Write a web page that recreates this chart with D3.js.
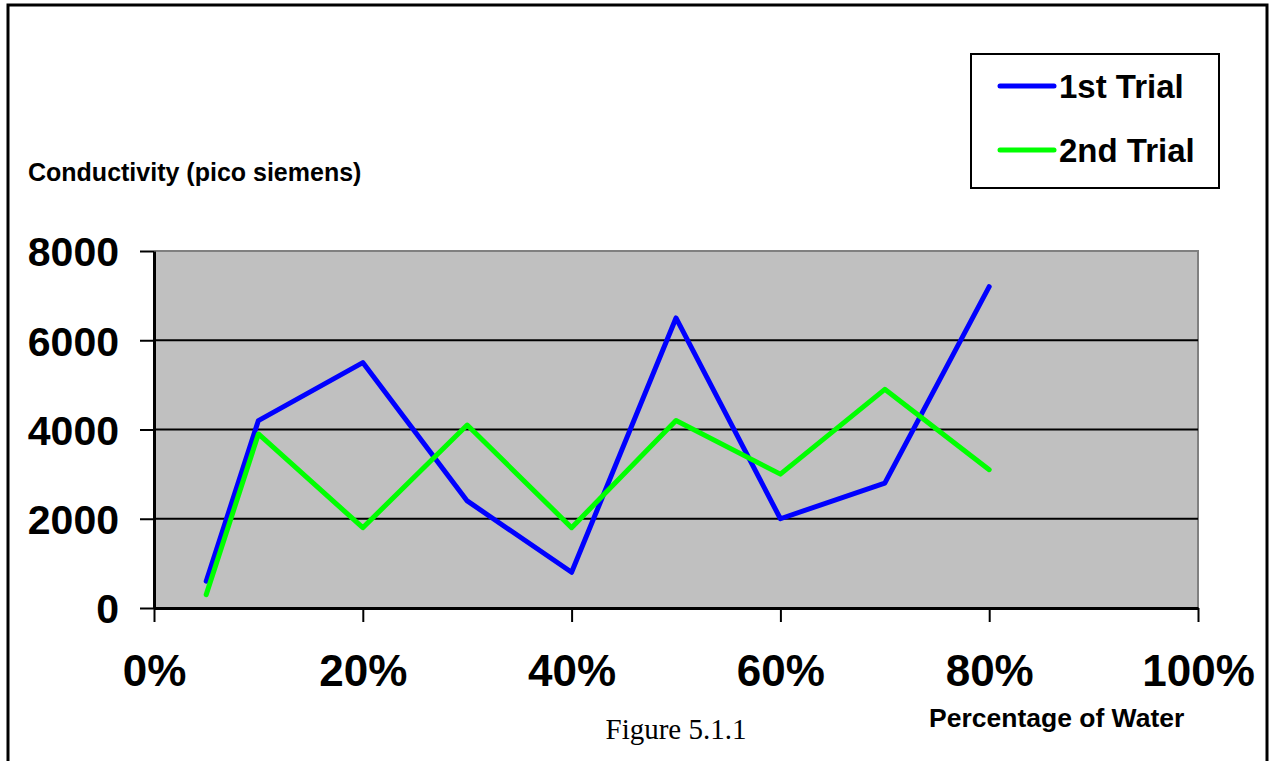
<!DOCTYPE html>
<html>
<head>
<meta charset="utf-8">
<script src="https://cdn.jsdelivr.net/npm/d3@7"></script>
<style>
  html, body { margin: 0; padding: 0; background: #ffffff; }
  svg { display: block; }
</style>
</head>
<body>
<svg id="chart" width="1272" height="761"></svg>
<script>
// Water percentage (fraction of 1) for each measurement
const waterFraction = [0.05, 0.10, 0.20, 0.30, 0.40, 0.50, 0.60, 0.70, 0.80];
// Conductivity readings, pico siemens
const trial1 = [600, 4200, 5500, 2400, 800, 6500, 2000, 2800, 7200];
const trial2 = [300, 3900, 1800, 4100, 1800, 4200, 3000, 4900, 3100];
const seriesNames = ["1st Trial", "2nd Trial"];
const seriesColors = ["#0000ff", "#00ff00"];
const yTicks = [0, 2000, 4000, 6000, 8000];
const xTicks = [0, 0.2, 0.4, 0.6, 0.8, 1.0];

const svg = d3.select("#chart");
const sans = "'Liberation Sans', Arial, sans-serif";

// outer frame
svg.append("rect")
  .attr("x", 8).attr("y", 5).attr("width", 1259).attr("height", 770)
  .attr("fill", "none").attr("stroke", "#000").attr("stroke-width", 3);

const plot = { left: 154, top: 251, right: 1198, bottom: 608 };
const x = d3.scaleLinear().domain([0, 1]).range([plot.left, plot.right]);
const y = d3.scaleLinear().domain([0, 8000]).range([plot.bottom, plot.top]);

// plot background
svg.append("rect")
  .attr("x", plot.left).attr("y", plot.top)
  .attr("width", plot.right - plot.left).attr("height", plot.bottom - plot.top)
  .attr("fill", "#c0c0c0");

// top and right frame of the plot area
svg.append("path")
  .attr("d", `M${plot.left},${plot.top}H${plot.right}V${plot.bottom}`)
  .attr("fill", "none").attr("stroke", "#808080").attr("stroke-width", 2);

// horizontal gridlines
svg.append("g").selectAll("line")
  .data(yTicks.filter(v => v > 0 && v < 8000))
  .join("line")
  .attr("x1", plot.left).attr("x2", plot.right)
  .attr("y1", d => y(d)).attr("y2", d => y(d))
  .attr("stroke", "#000").attr("stroke-width", 2);

// y axis
const yAxis = svg.append("g")
  .attr("transform", `translate(${plot.left},0)`)
  .call(d3.axisLeft(y).tickValues(yTicks).tickFormat(d3.format("d"))
    .tickSize(14).tickPadding(21).tickSizeOuter(0));
yAxis.select(".domain").attr("stroke", "#000").attr("stroke-width", 3);
yAxis.selectAll(".tick line").attr("stroke", "#000").attr("stroke-width", 2);
yAxis.selectAll(".tick text")
  .attr("font-family", sans).attr("font-weight", "bold").attr("font-size", 41)
  .attr("fill", "#000").attr("dy", "0.36em");

// x axis
const xAxis = svg.append("g")
  .attr("transform", `translate(0,${plot.bottom})`)
  .call(d3.axisBottom(x).tickValues(xTicks).tickFormat(d3.format(".0%"))
    .tickSize(14).tickPadding(0).tickSizeOuter(0));
xAxis.select(".domain").attr("stroke", "#000").attr("stroke-width", 3);
xAxis.selectAll(".tick line").attr("stroke", "#000").attr("stroke-width", 2);
xAxis.selectAll(".tick text")
  .attr("font-family", sans).attr("font-weight", "bold").attr("font-size", 44)
  .attr("fill", "#000").attr("y", 78).attr("dy", 0);

// series lines
const line = d3.line().x((d, i) => x(waterFraction[i])).y(d => y(d));
[trial1, trial2].forEach((vals, k) => {
  svg.append("path")
    .datum(vals)
    .attr("d", line)
    .attr("fill", "none")
    .attr("stroke", seriesColors[k])
    .attr("stroke-width", 5)
    .attr("stroke-linejoin", "round")
    .attr("stroke-linecap", "round");
});

// axis titles
svg.append("text")
  .attr("x", 28).attr("y", 181)
  .attr("font-family", sans).attr("font-weight", "bold").attr("font-size", 25)
  .attr("fill", "#000")
  .text("Conductivity (pico siemens)");

svg.append("text")
  .attr("x", 929).attr("y", 727)
  .attr("font-family", sans).attr("font-weight", "bold").attr("font-size", 26.5)
  .attr("fill", "#000")
  .text("Percentage of Water");

// caption
svg.append("text")
  .attr("x", 676).attr("y", 739)
  .attr("text-anchor", "middle")
  .attr("font-family", "'Liberation Serif', 'Times New Roman', serif").attr("font-size", 29)
  .attr("fill", "#000")
  .text("Figure 5.1.1");

// legend
const legend = svg.append("g");
legend.append("rect")
  .attr("x", 971).attr("y", 54).attr("width", 248).attr("height", 134)
  .attr("fill", "#fff").attr("stroke", "#000").attr("stroke-width", 2);
const legendY = [86, 150];
seriesNames.forEach((name, k) => {
  legend.append("line")
    .attr("x1", 1000).attr("x2", 1054)
    .attr("y1", legendY[k]).attr("y2", legendY[k])
    .attr("stroke", seriesColors[k]).attr("stroke-width", 5)
    .attr("stroke-linecap", "round");
  legend.append("text")
    .attr("x", 1059).attr("y", legendY[k] + 12)
    .attr("font-family", sans).attr("font-weight", "bold").attr("font-size", 33)
    .attr("fill", "#000")
    .text(name);
});
</script>
</body>
</html>
